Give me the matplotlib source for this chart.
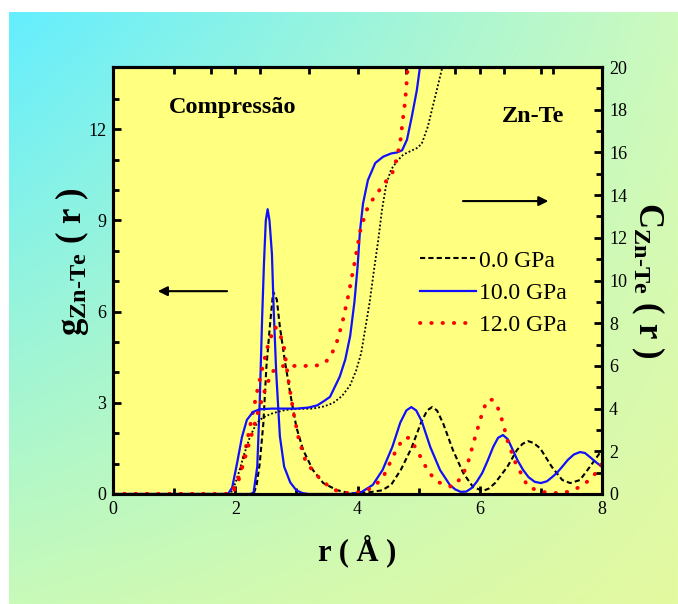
import numpy as np
import matplotlib
matplotlib.use('Agg')
from matplotlib import pyplot as plt

plt.rcParams['font.family'] = 'Liberation Serif'
plt.rcParams['mathtext.fontset'] = 'custom'
plt.rcParams['mathtext.rm'] = 'Liberation Serif'
plt.rcParams['mathtext.bf'] = 'Liberation Serif:bold'
plt.rcParams['mathtext.it'] = 'Liberation Serif:italic'

labels = ['0.0 GPa', '10.0 GPa', '12.0 GPa']

# g(r), left axis
r_g0 = [0, 2.3, 2.35, 2.4, 2.46, 2.51, 2.57, 2.62, 2.68, 2.73, 2.81, 2.9, 3.0,
        3.11, 3.27, 3.44, 3.66, 3.88, 4.0, 4.2, 4.4, 4.55, 4.71, 4.88, 5.04,
        5.14, 5.22, 5.3, 5.4, 5.56, 5.73, 5.89, 6.05, 6.15, 6.25, 6.45, 6.61,
        6.7, 6.79, 6.88, 6.99, 7.18, 7.35, 7.48, 7.64, 7.8, 8.0]
g0 = [0, 0, 0.3, 1.0, 2.33, 4.2, 5.6, 6.65, 6.4, 5.5, 4.4, 3.3, 2.2,
      1.45, 0.79, 0.36, 0.13, 0.02, 0.03, 0.06, 0.12, 0.3, 0.8, 1.5, 2.35,
      2.75, 2.86, 2.75, 2.33, 1.45, 0.69, 0.23, 0.1, 0.18, 0.36, 0.89, 1.45,
      1.65, 1.74, 1.68, 1.5, 0.89, 0.46, 0.36, 0.46, 0.89, 1.45]

r_g10 = [0, 2.25, 2.3, 2.36, 2.4, 2.44, 2.47, 2.5, 2.53, 2.56, 2.6, 2.63, 2.67,
         2.73, 2.8, 2.9, 3.0, 3.1, 3.2, 3.8, 3.9, 4.07, 4.25, 4.41, 4.57, 4.7,
         4.8, 4.88, 4.96, 5.05, 5.19, 5.35, 5.51, 5.6, 5.69, 5.78, 5.87, 5.95,
         6.04, 6.13, 6.22, 6.3, 6.38, 6.46, 6.54, 6.62, 6.71, 6.8, 6.9, 7.0,
         7.1, 7.18, 7.26, 7.35, 7.44, 7.54, 7.64, 7.72, 7.8, 7.9, 8.0]
g10 = [0, 0, 0.05, 0.9, 3.0, 5.8, 7.6, 9.0, 9.37, 9.0, 7.9, 6.0, 4.0,
       1.9, 0.9, 0.38, 0.12, 0.03, 0, 0, 0.01, 0.07, 0.3, 0.79, 1.55, 2.35,
       2.75, 2.86, 2.75, 2.4, 1.55, 0.79, 0.3, 0.15, 0.07, 0.08, 0.2, 0.4,
       0.69, 1.1, 1.55, 1.85, 1.94, 1.8, 1.45, 1.1, 0.79, 0.55, 0.4, 0.36,
       0.42, 0.55, 0.69, 0.9, 1.12, 1.3, 1.38, 1.35, 1.22, 1.05, 0.89]

r_g12 = [0, 1.95, 2.05, 2.15, 2.25, 2.35, 2.45, 2.55, 2.65, 2.72, 2.8, 2.88,
         2.96, 3.04, 3.14, 3.27, 3.44, 3.6, 3.8, 4.0, 4.25, 4.42, 4.61, 4.75,
         4.85, 4.94, 5.06, 5.16, 5.32, 5.55, 5.71, 5.81, 5.92, 6.04, 6.12, 6.2,
         6.28, 6.38, 6.46, 6.58, 6.79, 7.02, 7.23, 7.43, 7.64, 7.84, 8.0]
g12 = [0, 0, 0.4, 1.3, 2.3, 3.3, 4.2, 5.0, 5.5, 5.35, 4.8, 3.6,
       2.6, 1.8, 1.15, 0.75, 0.4, 0.15, 0.03, 0.05, 0.2, 0.56, 1.35, 1.84,
       1.85, 1.55, 1.12, 0.72, 0.39, 0.23, 0.56, 1.05, 1.84, 2.66, 3.09, 3.1,
       2.93, 2.34, 1.71, 1.05, 0.23, 0.07, 0.03, 0.07, 0.23, 0.53, 1.0]

# C(r), right axis
r_c0 = [0, 1.92, 2.0, 2.08, 2.13, 2.24, 2.32, 2.4, 2.5, 2.62, 2.8, 2.95, 3.27,
        3.45, 3.6, 3.75, 3.88, 3.98, 4.06, 4.13, 4.2, 4.27, 4.34, 4.4, 4.47,
        4.55, 4.65, 4.75, 4.97, 5.05, 5.15, 5.27, 5.38, 5.42]
c0 = [0, 0, 0.5, 1.2, 1.73, 2.67, 3.15, 3.47, 3.65, 3.79, 3.92, 3.98, 4.0,
      4.1, 4.26, 4.6, 5.1, 5.8, 6.6, 7.8, 9.0, 10.5, 11.9, 13.3, 14.5,
      15.2, 15.6, 15.9, 16.2, 16.4, 17.2, 18.6, 19.9, 20.5]

r_c10 = [0, 1.88, 1.95, 2.03, 2.11, 2.19, 2.29, 2.4, 2.6, 3.0, 3.2, 3.34, 3.45,
         3.55, 3.71, 3.8, 3.88, 3.95, 4.0, 4.04, 4.09, 4.17, 4.29, 4.42, 4.55,
         4.65, 4.73, 4.81, 4.89, 4.97, 5.02, 5.05]
c10 = [0, 0, 0.3, 1.45, 2.67, 3.47, 3.84, 3.97, 4.0, 4.0, 4.05, 4.15, 4.35,
       4.55, 5.5, 6.3, 7.4, 9.0, 10.6, 12.3, 13.6, 14.7, 15.5, 15.8, 15.95,
       16.0, 16.1, 16.6, 17.7, 18.9, 19.95, 20.5]

r_c12 = [0, 1.92, 2.0, 2.1, 2.2, 2.3, 2.4, 2.5, 2.6, 2.7, 2.8, 3.0, 3.3, 3.45,
         3.55, 3.65, 3.75, 3.85, 3.95, 4.05, 4.15, 4.27, 4.43, 4.58, 4.64,
         4.7, 4.74, 4.78, 4.81, 4.83]
c12 = [0, 0, 0.4, 1.1, 2.1, 3.1, 4.1, 5.0, 5.7, 5.95, 6.0, 6.0, 6.0, 6.1,
       6.4, 7.0, 8.0, 9.3, 10.8, 12.4, 13.3, 13.9, 14.5, 15.1, 15.7,
       16.5, 17.5, 18.4, 19.5, 20.5]

top_ticks = [1, 1.6, 2, 2.4, 3.2, 4, 4.8, 5.6, 6, 6.4, 7, 7.2]

fig = plt.figure(figsize=(6.78, 6.04), dpi=100)

# gradient backdrop
bg = fig.add_axes([9 / 678, 0, 1 - 9 / 678, 1 - 12 / 604])
bg.axis('off')
u = np.linspace(0, 1, 200)[None, :, None]
v = np.linspace(0, 1, 200)[:, None, None]
tl = np.array([100, 238, 255]) / 255
tr = np.array([205, 250, 190]) / 255
bl = np.array([200, 250, 185]) / 255
br = np.array([228, 250, 160]) / 255
img = (1 - u) * (1 - v) * tl + u * (1 - v) * tr + (1 - u) * v * bl + u * v * br
bg.imshow(img, aspect='auto', extent=[0, 1, 0, 1], origin='upper')

ax = fig.add_axes([113 / 678, 110 / 604, 489 / 678, 427 / 604])
ax.set_facecolor('#ffff80')
ax2 = ax.twinx()

l0, = ax.plot(r_g0, g0, color='black', lw=1.5, ls=(0, (2.5, 1.5)))
l10, = ax.plot(r_g10, g10, color='#1010ff', lw=1.6)
l12, = ax.plot(r_g12, g12, color='red', lw=2.8, ls=(0, (0.1, 2.8)),
               dash_capstyle='round')

ax2.plot(r_c0, c0, color='black', lw=1.3, ls=(0, (1, 1.2)))
ax2.plot(r_c10, c10, color='#1010ff', lw=1.6)
ax2.plot(r_c12, c12, color='red', lw=2.8, ls=(0, (0.1, 2.8)),
         dash_capstyle='round')

ax.set_xlim(0, 8)
ax.set_ylim(0, 14.05)
ax2.set_ylim(0, 20)

ax.set_xticks([0, 2, 4, 6, 8])
ax.set_xticks([1, 3, 5, 7], minor=True)
ax.set_yticks([0, 3, 6, 9, 12])
ax.set_yticks(np.arange(0, 14, 1), minor=True)
ax2.set_yticks(np.arange(0, 21, 2))
ax2.set_yticks(np.arange(1, 20, 2), minor=True)

for a in (ax, ax2):
    for s in a.spines.values():
        s.set_linewidth(2.2)
    a.tick_params(which='major', direction='in', length=6, width=2,
                  labelsize=13, pad=5)
    a.tick_params(which='minor', direction='in', length=4, width=2)

top = ax.secondary_xaxis('top')
top.set_xticks(top_ticks)
top.tick_params(direction='in', length=5, width=2, labeltop=False)
top.spines['top'].set_linewidth(2.2)

ax.set_xlabel('r ( Å )', fontsize=22, fontweight='bold', labelpad=12)
ax.set_ylabel(r'$\mathbf{g}_{\mathbf{Zn\text{-}Te}}$ ( r )', fontsize=25,
              fontweight='bold')
ax.yaxis.set_label_coords(-0.045, 0.545)
ax2.set_ylabel(r'$\mathbf{C}_{\mathbf{Zn\text{-}Te}}$ ( r )', fontsize=25,
               fontweight='bold', rotation=270, labelpad=28)

ax.text(0.245, 0.904, 'Compressão', transform=ax.transAxes, fontsize=17.5,
        fontweight='bold', ha='center', va='center')
ax.text(0.86, 0.885, 'Zn-Te', transform=ax.transAxes, fontsize=17.5,
        fontweight='bold', ha='center', va='center')

ax.annotate('', xy=(0.086, 0.475), xytext=(0.239, 0.475),
            xycoords='axes fraction',
            arrowprops=dict(arrowstyle='-|>', color='black', lw=1.5,
                            mutation_scale=14))
ax.annotate('', xy=(0.896, 0.686), xytext=(0.71, 0.686),
            xycoords='axes fraction',
            arrowprops=dict(arrowstyle='-|>', color='black', lw=1.5,
                            mutation_scale=14))

ax.legend([l0, l10, l12], labels, loc='upper left',
          bbox_to_anchor=(0.628, 0.571), frameon=False, fontsize=17,
          handlelength=2.35, handletextpad=0.15, labelspacing=0.45,
          borderaxespad=0, borderpad=0)

fig.savefig('out.png', dpi=100)
